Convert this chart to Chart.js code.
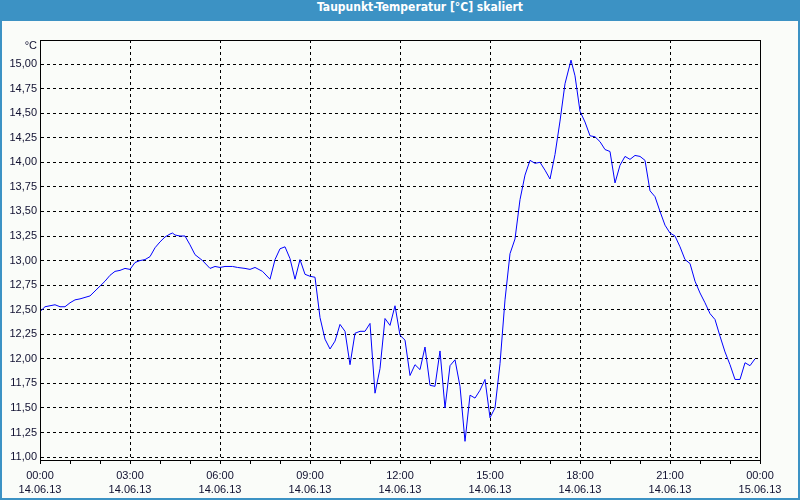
<!DOCTYPE html>
<html>
<head>
<meta charset="utf-8">
<script src="https://cdn.jsdelivr.net/npm/chart.js@4"></script>
<style>
  html, body { margin: 0; padding: 0; }
  body { width: 800px; height: 500px; position: relative; overflow: hidden; background: #fafcf9; }
  #frame { position: absolute; left: 0; top: 0; width: 796px; height: 477px; border: 2px solid #3c92c4; border-top: 21px solid #3c92c4; }
  #title { position: absolute; left: 0; top: 0; width: 840px; height: 21px; line-height: 21px; text-align: center;
           color: #fff; font: bold 12px "DejaVu Sans Condensed", "Liberation Sans Narrow", "Liberation Sans", sans-serif; }
  #wrap { position: absolute; left: 0; top: 0; width: 800px; height: 500px; }
</style>
</head>
<body>
<div id="frame"></div>
<div id="title">Taupunkt-Temperatur [°C] skaliert</div>
<div id="wrap"><canvas id="myChart" width="800" height="500"></canvas></div>
<script>
// minutes since 14.06.13 00:00
const minutes = [
  0, 10, 20, 30, 40, 50, 60, 70, 80, 100, 110, 120, 130, 140, 150, 160, 170, 180,
  190, 200, 210, 220, 230, 240, 250, 260, 265, 270, 280, 290, 300, 310, 325, 340, 350, 360,
  370, 385, 395, 410, 420, 430, 445, 460, 470, 480, 490, 500, 510, 520, 530, 540, 550,
  560, 570, 580, 590, 600, 610, 620, 630, 640, 650, 660, 670, 680, 690, 700, 710, 720,
  730, 740, 750, 760, 770, 780, 790, 800, 810, 820, 830, 840, 850, 860, 870, 880, 890,
  900, 910, 920, 930, 940, 950, 960, 970, 980, 990, 1000, 1010, 1020, 1030, 1040, 1050,
  1062, 1070, 1080, 1090, 1100, 1110, 1120, 1130, 1140, 1150, 1160, 1170, 1180, 1190,
  1200, 1210, 1220, 1230, 1240, 1250, 1260, 1270, 1280, 1290, 1300, 1310, 1320, 1330,
  1340, 1350, 1360, 1370, 1380, 1390, 1400, 1410, 1420, 1430
];
const taupunkt = [
  12.48, 12.53, 12.54, 12.55, 12.53, 12.53, 12.57, 12.60, 12.61, 12.64, 12.69, 12.74, 12.79, 12.85, 12.89, 12.90, 12.92, 12.91,
  12.98, 13.00, 13.01, 13.04, 13.13, 13.19, 13.24, 13.27, 13.28, 13.26, 13.25, 13.25, 13.16, 13.06, 13.00, 12.92, 12.94, 12.93,
  12.94, 12.94, 12.93, 12.92, 12.91, 12.93, 12.89, 12.81, 13.01, 13.12, 13.14, 13.02, 12.81, 13.01, 12.86, 12.84, 12.83,
  12.42, 12.20, 12.10, 12.18, 12.35, 12.28, 11.94, 12.26, 12.28, 12.28, 12.36, 11.65, 11.90, 12.41, 12.34, 12.54, 12.24,
  12.19, 11.83, 11.94, 11.89, 12.12, 11.73, 11.72, 12.08, 11.50, 11.93, 11.99, 11.72, 11.16, 11.63, 11.60, 11.68, 11.79,
  11.40, 11.50, 11.95, 12.60, 13.07, 13.22, 13.62, 13.87, 14.02, 13.99, 14.00, 13.92, 13.83, 14.08, 14.42, 14.80,
  15.04, 14.88, 14.52, 14.41, 14.27, 14.26, 14.21, 14.13, 14.11, 13.79, 13.97, 14.06, 14.03, 14.07,
  14.06, 14.02, 13.71, 13.65, 13.50, 13.36, 13.28, 13.25, 13.14, 13.01, 12.97, 12.79, 12.67, 12.57,
  12.46, 12.40, 12.23, 12.07, 11.94, 11.79, 11.79, 11.96, 11.93, 12.00
];
const yTicks = [11, 11.25, 11.5, 11.75, 12, 12.25, 12.5, 12.75, 13, 13.25, 13.5, 13.75, 14, 14.25, 14.5, 14.75, 15];
const timeLabels = ["00:00", "03:00", "06:00", "09:00", "12:00", "15:00", "18:00", "21:00", "00:00"];
const dateLabels = ["14.06.13", "14.06.13", "14.06.13", "14.06.13", "14.06.13", "14.06.13", "14.06.13", "14.06.13", "15.06.13"];

const labelFont = { family: "'Liberation Sans', 'DejaVu Sans', sans-serif", size: 11 };
const labelColor = "#101030";

// solid frame round the plot and the unit label above the y axis
const framePlugin = {
  id: "frame",
  afterDraw(chart) {
    const a = chart.chartArea;
    const ctx = chart.ctx;
    ctx.save();
    ctx.strokeStyle = "#000";
    ctx.lineWidth = 1;
    ctx.strokeRect(a.left + 0.5, a.top + 0.5, a.right - a.left, a.bottom - a.top);
    ctx.fillStyle = labelColor;
    ctx.font = "11px 'Liberation Sans', 'DejaVu Sans', sans-serif";
    ctx.textAlign = "right";
    ctx.textBaseline = "middle";
    ctx.fillText("°C", 37, 46);
    ctx.restore();
  },
};

const config = {
  type: "line",
  data: {
    datasets: [
      {
        label: "Taupunkt",
        data: minutes.map((m, i) => ({ x: m, y: taupunkt[i] })),
        borderColor: "#0000ff",
        borderWidth: 1,
        pointRadius: 0,
        tension: 0,
        fill: false,
      },
    ],
  },
  options: {
    responsive: false,
    animation: false,
    layout: { padding: { top: 40, right: 40, left: 0, bottom: 0 } },
    plugins: { legend: { display: false }, tooltip: { enabled: false } },
    scales: {
      x: {
        type: "linear",
        min: 0,
        max: 1440,
        afterFit: (s) => { s.height = 40; },
        afterBuildTicks: (s) => {
          const t = [];
          for (let m = 0; m <= 1440; m += 60) t.push({ value: m });
          s.ticks = t;
        },
        ticks: {
          autoSkip: false,
          maxRotation: 0,
          padding: 4,
          color: labelColor,
          font: Object.assign({ lineHeight: 1.36 }, labelFont),
          callback: (v) => (v % 180 === 0 ? [timeLabels[v / 180], dateLabels[v / 180]] : ""),
        },
        grid: {
          color: (ctx) => (ctx.tick && ctx.tick.value % 180 === 0 ? "#000" : "rgba(0,0,0,0)"),
          tickColor: "#000",
          tickLength: 4,
          tickBorderDash: [],
          lineWidth: 1,
        },
        border: { color: "#000", dash: [3, 3] },
      },
      y: {
        min: 10.97,
        max: 15.245,
        afterFit: (s) => { s.width = 40; },
        afterBuildTicks: (s) => { s.ticks = yTicks.map((v) => ({ value: v })); },
        ticks: {
          padding: 3,
          color: labelColor,
          font: labelFont,
          callback: (v) => v.toFixed(2).replace(".", ","),
        },
        grid: { color: "#000", drawTicks: false, lineWidth: 1 },
        border: { color: "#000", dash: [3, 3] },
      },
    },
  },
  plugins: [framePlugin],
};
const myChart = new Chart(document.getElementById("myChart"), config);
</script>
</body>
</html>
